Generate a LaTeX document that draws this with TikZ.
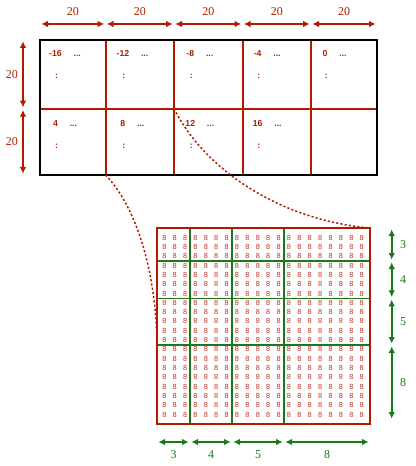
\documentclass[tikz,border=0pt]{standalone}
\usepackage{fontspec}
\setmainfont{Liberation Serif}
\setsansfont{Liberation Sans}
\usetikzlibrary{arrows.meta,positioning}

\definecolor{gridred}{RGB}{178,26,0}
\definecolor{eightred}{RGB}{195,45,35}
\definecolor{gridgreen}{RGB}{25,120,25}

\begin{document}
\begin{tikzpicture}[
  x=0.75pt, y=-0.75pt,
  dim/.style={{Latex[length=5pt,width=5pt]}-{Latex[length=5pt,width=5pt]}, line width=1.2pt, shorten >=1pt, shorten <=1pt},
  dimlabel/.style={font=\fontsize{9}{10}\selectfont},
  cell/.style={text=gridred, font=\sffamily\bfseries\fontsize{6.5}{7}\selectfont, inner sep=0.5pt},
  eight/.style={text=eightred, font=\sffamily\fontsize{5.5}{5.5}\selectfont, inner sep=0pt},
  zoomline/.style={gridred, line width=1.1pt, dash pattern=on 1.6pt off 1.6pt}
]

\useasboundingbox (0,0) rectangle (415,466);

% top array: 5 x 2 blocks of 20 x 20
\foreach \i/\x in {0/40,1/105.5,2/174,3/242.5,4/311,5/377} {
  \coordinate (top\i) at (\x,40);
  \coordinate (bot\i) at (\x,175);
  \coordinate (dim\i) at (\x,24);
}
\foreach \j/\y in {0/40,1/108.7,2/175} {
  \coordinate (left\j) at (40,\y);
  \coordinate (right\j) at (377,\y);
  \coordinate (vdim\j) at (23,\y);
}

\foreach \i in {1,...,4}
  \draw[gridred, line width=1.5pt] (top\i) -- (bot\i);
\draw[gridred, line width=1.5pt] (left1) -- (right1);
\draw[line width=1.5pt] (top0) rectangle (bot5);

% block sizes
\foreach \i [evaluate=\i as \k using int(\i+1)] in {0,...,4}
  \draw[dim, gridred] (dim\i) -- node[dimlabel, text=gridred, yshift=9pt] {20} (dim\k);
\draw[dim, gridred] (vdim0) -- node[dimlabel, text=gridred, xshift=-8.25pt] {20} (vdim1);
\draw[dim, gridred] (vdim1) -- node[dimlabel, text=gridred, xshift=-8.25pt] {20} (vdim2);

% block start values
\foreach \n [count=\k from 0] in {-16,-12,-8,-4,0,4,8,12,16} {
  \pgfmathtruncatemacro\col{mod(\k,5)}
  \pgfmathtruncatemacro\row{int(\k/5)}
  \node[cell, anchor=base] (num\k) at (55.5+67.4*\col, 56.5+70*\row) {\n};
  \node[cell, anchor=base west] (dots\k) at ([xshift=7.5pt]num\k.base east) {...};
  \node[cell, anchor=base] (vdots\k) at ([xshift=0.75pt, yshift=-16.5pt]num\k.base) {:};
}

% zoomed block: 20 x 20 values, split 3+4+5+8
\foreach \i in {0,...,19}
  \foreach \j in {0,...,19}
    \node[eight] (e-\i-\j) at (164.3+10.39*\i, 237.5+9.33*\j) {8};

\foreach \x in {190,232,284}
  \draw[gridgreen, line width=1.1pt] (\x,228) -- (\x,424);
\foreach \y in {261,298.3,345}
  \draw[gridgreen, line width=1.1pt] (157,\y) -- (370,\y);
\draw[gridred, line width=1.5pt] (157,228) coordinate (zoomNW) rectangle (370,424) coordinate (zoomSE);
\coordinate (zoomNE) at (370,228);
\coordinate (zoomW) at (157,350);
\coordinate (blk12) at (174,108.7);

% lines from the block to its zoom
\draw[zoomline] (bot1) .. controls (135,205) and (157,270) .. (zoomW);
\draw[zoomline] (blk12) .. controls (205,170) and (280,220) .. (zoomNE);

% split sizes
\foreach \i/\a/\b/\t in {0/157/190/3,1/190/232/4,2/232/284/5,3/284/370/8} {
  \coordinate (ha\i) at (\a,442);
  \coordinate (hb\i) at (\b,442);
  \draw[dim, gridgreen] (ha\i) -- node[dimlabel, text=gridgreen, yshift=-9.75pt] {\t} (hb\i);
}
\foreach \i/\a/\b/\t in {0/228/261/3,1/261/298.3/4,2/298.3/345/5,3/345/420/8} {
  \coordinate (va\i) at (391.7,\a);
  \coordinate (vb\i) at (391.7,\b);
  \draw[dim, gridgreen] (va\i) -- node[dimlabel, text=gridgreen, xshift=8.5pt] {\t} (vb\i);
}

\end{tikzpicture}
\end{document}
